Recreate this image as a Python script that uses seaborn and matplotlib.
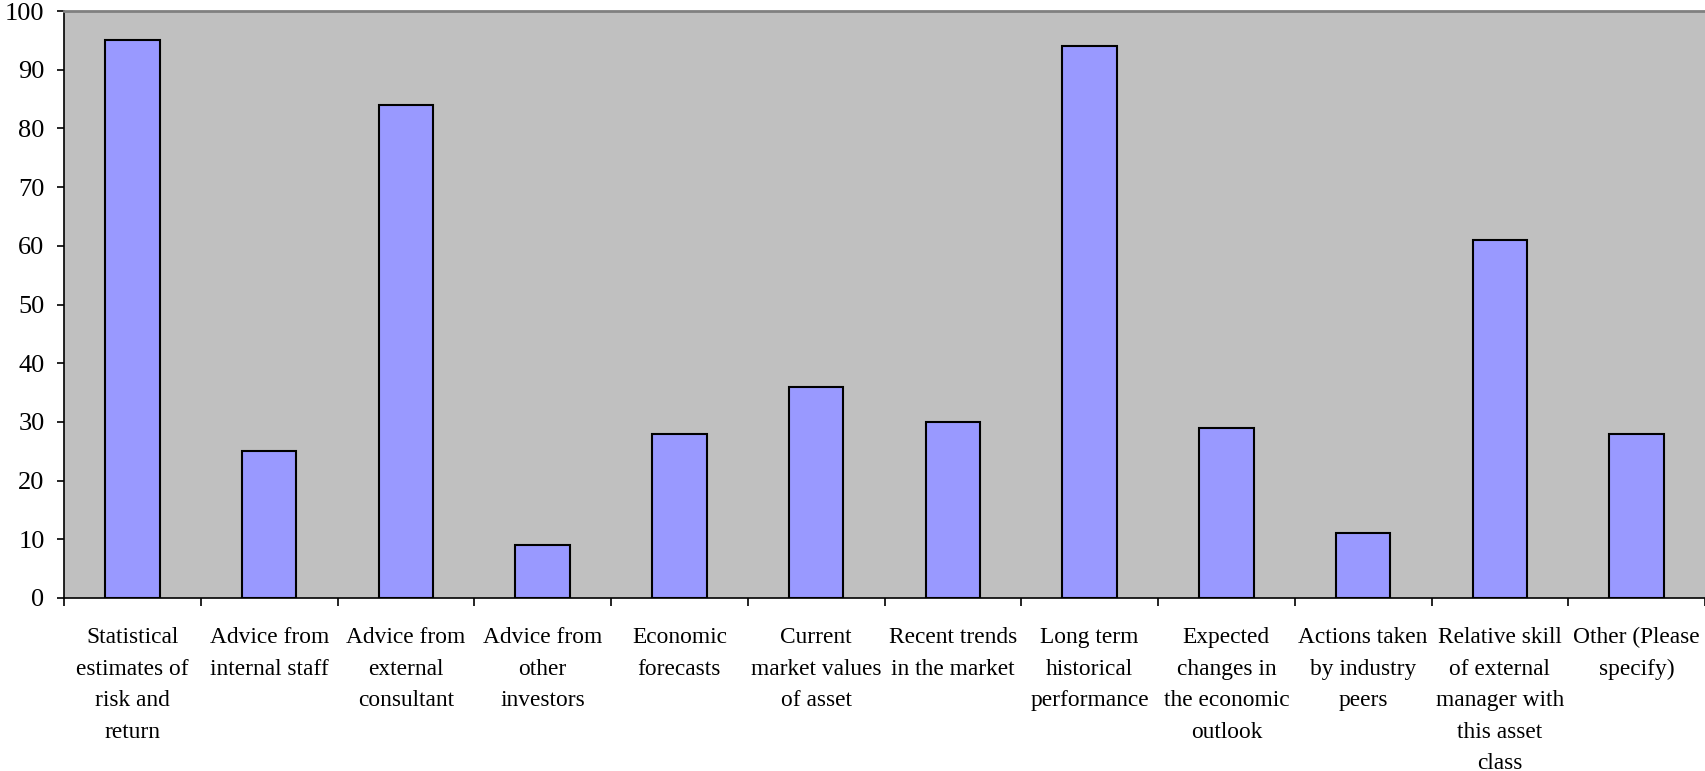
import matplotlib
matplotlib.use("Agg")
import matplotlib.pyplot as plt
from matplotlib.ticker import MultipleLocator, FixedLocator
import seaborn as sns
import pandas as pd
import numpy as np

categories = [
    "Statistical\nestimates of\nrisk and\nreturn",
    "Advice from\ninternal staff",
    "Advice from\nexternal\nconsultant",
    "Advice from\nother\ninvestors",
    "Economic\nforecasts",
    "Current\nmarket values\nof asset",
    "Recent trends\nin the market",
    "Long term\nhistorical\nperformance",
    "Expected\nchanges in\nthe economic\noutlook",
    "Actions taken\nby industry\npeers",
    "Relative skill\nof external\nmanager with\nthis asset\nclass",
    "Other (Please\nspecify)",
]
values = [95, 25, 84, 9, 28, 36, 30, 94, 29, 11, 61, 28]

df = pd.DataFrame({"factor": categories, "count": values})

sns.set_theme(style="white")
plt.rcParams["font.family"] = ["Liberation Serif", "DejaVu Serif"]

fig = plt.figure(figsize=(17.05, 7.71), dpi=100)
ax = fig.add_axes([64 / 1705, 1 - 598 / 771, 1 - 64 / 1705, (598 - 11) / 771])
ax.set_facecolor("#C0C0C0")

sns.barplot(data=df, x="factor", y="count", ax=ax, width=0.4,
            color="#9999FF", saturation=1, edgecolor="black", linewidth=1.5)

ax.set_xlim(-0.5, len(categories) - 0.5)
ax.set_ylim(0, 100)
ax.yaxis.set_major_locator(MultipleLocator(10))
ax.set_xlabel("")
ax.set_ylabel("")

# category labels centred under bars, tick marks between categories
ax.tick_params(axis="x", which="major", length=0, pad=21, labelsize=16.8, colors="black")
ax.set_xticks(range(len(categories)))
ax.set_xticklabels(categories, linespacing=1.66, va="top", ha="center")
ax.xaxis.set_minor_locator(FixedLocator(np.arange(-0.5, len(categories), 1.0)))
ax.tick_params(axis="x", which="minor", bottom=True, length=6, width=1.2, color="black", direction="out")

ax.tick_params(axis="y", which="major", left=True, length=5, width=1.2, color="black",
               direction="out", pad=9, labelsize=19, labelcolor="black")

for side in ["left", "bottom"]:
    ax.spines[side].set_color("black")
    ax.spines[side].set_linewidth(1.2)
ax.spines["top"].set_color("#808080")
ax.spines["top"].set_linewidth(2)
ax.spines["right"].set_visible(False)

fig.savefig("out.png", dpi=100)
